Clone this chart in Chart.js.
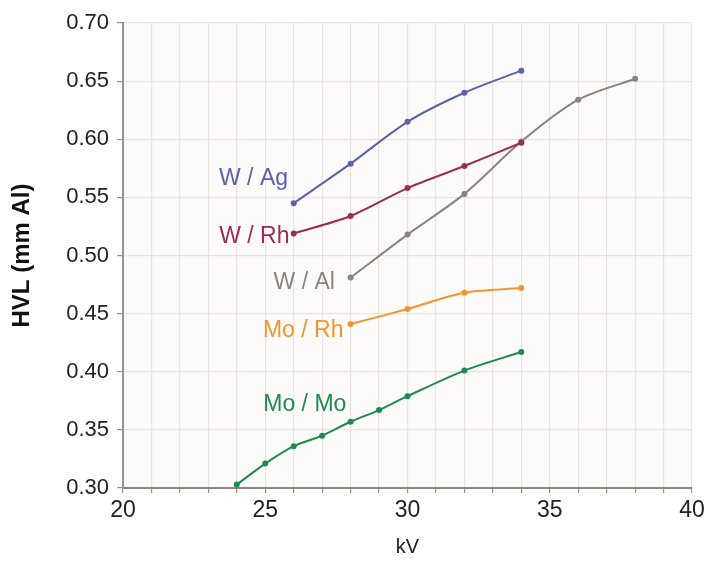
<!DOCTYPE html>
<html>
<head>
<meta charset="utf-8">
<script src="https://cdn.jsdelivr.net/npm/chart.js@4/dist/chart.umd.min.js"></script>
<style>
  html, body { margin: 0; padding: 0; background: #fff; }
  #wrap { width: 705px; height: 563px; position: relative; }
</style>
</head>
<body>
<div id="wrap"><canvas id="myChart" width="705" height="563"></canvas></div>
<script>
// kV values and HVL (mm Al) per target/filter combo
const kvWAg = [26, 28, 30, 32, 34];
const hvlWAg = [0.545, 0.579, 0.615, 0.640, 0.659];

const kvWRh = [26, 28, 30, 32, 34];
const hvlWRh = [0.519, 0.534, 0.558, 0.577, 0.597];

const kvWAl = [28, 30, 32, 34, 36, 38];
const hvlWAl = [0.481, 0.518, 0.553, 0.598, 0.634, 0.652];

const kvMoRh = [28, 30, 32, 34];
const hvlMoRh = [0.441, 0.454, 0.468, 0.472];

const kvMoMo = [24, 25, 26, 27, 28, 29, 30, 32, 34];
const hvlMoMo = [0.303, 0.321, 0.336, 0.345, 0.357, 0.367, 0.379, 0.401, 0.417];

// curve labels: name, anchor kV (right edge), anchor HVL (text middle)
const labelNames = ['W / Ag', 'W / Rh', 'W / Al', 'Mo / Rh', 'Mo / Mo'];
const labelKv = [25.8, 25.85, 27.45, 27.75, 27.85];
const labelHvl = [0.566, 0.516, 0.477, 0.435, 0.372];

const colors = ['#5a62ac', '#9a2c56', '#8a8480', '#f0952f', '#1e8a50'];

const fontFam = '"Liberation Sans", Arial, sans-serif';

function toPoints(xs, ys) {
    return xs.map((x, i) => ({ x: x, y: ys[i] }));
}

function makeSet(name, xs, ys, color) {
    return {
        label: name,
        data: toPoints(xs, ys),
        borderColor: color,
        backgroundColor: color,
        borderWidth: 2,
        pointRadius: 2,
        pointHoverRadius: 2,
        tension: 0.3
    };
}

// plot background + curve labels
const decorPlugin = {
    id: 'decor',
    beforeDraw(chart) {
        const a = chart.chartArea;
        const ctx = chart.ctx;
        ctx.save();
        ctx.fillStyle = '#fdfbfa';
        ctx.fillRect(a.left, a.top, a.right - a.left, a.bottom - a.top);
        ctx.restore();
    },
    afterDatasetsDraw(chart) {
        const ctx = chart.ctx;
        const xs = chart.scales.x;
        const ys = chart.scales.y;
        ctx.save();
        ctx.font = '23px ' + fontFam;
        ctx.textAlign = 'right';
        ctx.textBaseline = 'middle';
        labelNames.forEach((name, i) => {
            ctx.fillStyle = colors[i];
            ctx.fillText(name, xs.getPixelForValue(labelKv[i]), ys.getPixelForValue(labelHvl[i]));
        });
        ctx.restore();
    }
};

document.addEventListener('DOMContentLoaded', () => {
    const ctx = document.getElementById('myChart').getContext('2d');
    const myChart = new Chart(ctx, {
        type: 'line',
        data: {
            datasets: [
                makeSet('W / Ag', kvWAg, hvlWAg, colors[0]),
                makeSet('W / Rh', kvWRh, hvlWRh, colors[1]),
                makeSet('W / Al', kvWAl, hvlWAl, colors[2]),
                makeSet('Mo / Rh', kvMoRh, hvlMoRh, colors[3]),
                makeSet('Mo / Mo', kvMoMo, hvlMoMo, colors[4])
            ]
        },
        options: {
            responsive: false,
            animation: false,
            layout: { padding: { top: 23, right: 0, left: 0, bottom: 0 } },
            plugins: {
                legend: { display: false },
                tooltip: { enabled: false }
            },
            scales: {
                x: {
                    type: 'linear',
                    min: 20,
                    max: 40,
                    ticks: {
                        stepSize: 1,
                        autoSkip: false,
                        maxRotation: 0,
                        color: '#222',
                        font: { family: fontFam, size: 23 },
                        padding: 4,
                        callback: v => (v % 5 === 0 ? v : '')
                    },
                    grid: {
                        color: '#ece3e0',
                        tickColor: '#9a928e',
                        tickLength: 5,
                        lineWidth: 1.2
                    },
                    border: { color: '#8c8580', width: 2 },
                    title: {
                        display: true,
                        text: 'kV',
                        color: '#222',
                        font: { family: fontFam, size: 20 },
                        padding: { top: 10 }
                    },
                    afterFit: s => { s.height = 75; s.paddingRight = 13; }
                },
                y: {
                    min: 0.3,
                    max: 0.7,
                    ticks: {
                        stepSize: 0.05,
                        color: '#222',
                        font: { family: fontFam, size: 22 },
                        padding: 8,
                        callback: v => v.toFixed(2)
                    },
                    grid: {
                        color: '#ece3e0',
                        tickColor: '#9a928e',
                        tickLength: 6,
                        lineWidth: 1.2
                    },
                    border: { color: '#9a928e', width: 2 },
                    title: {
                        display: true,
                        text: 'HVL (mm Al)',
                        color: '#111',
                        font: { family: fontFam, size: 24, weight: 'bold' },
                        padding: { top: 8, bottom: 4 }
                    },
                    afterFit: s => { s.width = 123; }
                }
            }
        },
        plugins: [decorPlugin]
    });
});
</script>
</body>
</html>
